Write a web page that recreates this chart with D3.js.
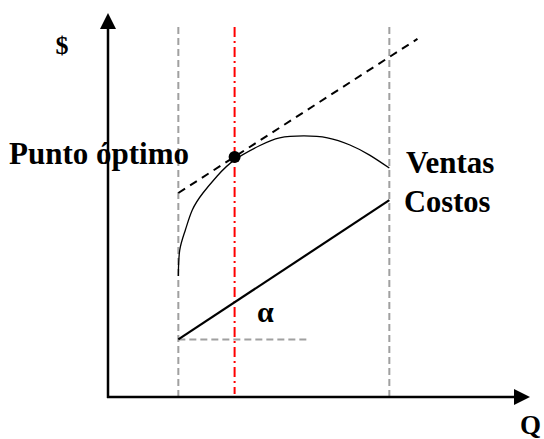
<!DOCTYPE html>
<html>
<head>
<meta charset="utf-8">
<script src="https://cdn.jsdelivr.net/npm/d3@7"></script>
<style>
  body { margin: 0; background: #fff; }
  text { font-family: "Liberation Serif", "Times New Roman", serif; font-weight: bold; fill: #000; }
</style>
</head>
<body>
<svg id="chart"></svg>
<script>
// Quantity levels (left limit, optimum, right limit)
const qLevels = [5, 9, 20];
// Sales curve
const salesQ = [5, 5.1, 5.5, 6, 6.75, 7.75, 9, 10.8, 12.2, 13.9, 15.6, 17.2, 18.6, 20];
const salesV = [12.6, 15.3, 17.4, 19.5, 21.25, 23.0, 24.7, 26.2, 27, 27.2, 27, 26.25, 25.2, 23.85];
// Costs line
const costQ = [5, 20];
const costV = [6, 20.5];
// Tangent at optimum
const tangentQ = [5, 22];
const tangentV = [21.25, 37.3];
// Optimum point
const optimumQ = 9;
const optimumV = 25;
// End of the alpha reference segment
const alphaEndQ = 14.3;

const config = {
  width: 544,
  height: 439,
  xRange: [108, 530],
  yRange: [397, 13],
};

const svg = d3.select('#chart')
  .attr('width', config.width)
  .attr('height', config.height);

// Scales
const xScale = d3.scaleLinear().domain([0, 30]).range(config.xRange);
const yScale = d3.scaleLinear().domain([0, 40]).range(config.yRange);

const x0 = xScale(0);
const y0 = yScale(0);
const yTop = 27;

// Vertical guide lines (gray dashed at limits, red dash-dot at optimum)
qLevels.forEach((q) => {
  const isOpt = q === optimumQ;
  svg.append('line')
    .attr('x1', xScale(q)).attr('x2', xScale(q))
    .attr('y1', yTop).attr('y2', isOpt ? y0 - 3 : y0)
    .attr('stroke', isOpt ? '#ff0000' : '#a0a0a0')
    .attr('stroke-width', 2)
    .attr('stroke-dasharray', isOpt ? '10,4,2,4' : '7,4');
});

// Horizontal reference for alpha
svg.append('line')
  .attr('x1', xScale(costQ[0])).attr('x2', xScale(alphaEndQ))
  .attr('y1', yScale(costV[0])).attr('y2', yScale(costV[0]))
  .attr('stroke', '#a0a0a0')
  .attr('stroke-width', 2)
  .attr('stroke-dasharray', '7,4');

// Tangent line (dashed)
const line = d3.line().x((d) => xScale(d[0])).y((d) => yScale(d[1]));
svg.append('path')
  .datum(d3.zip(tangentQ, tangentV))
  .attr('d', line)
  .attr('fill', 'none')
  .attr('stroke', '#000')
  .attr('stroke-width', 2)
  .attr('stroke-dasharray', '8,6');

// Sales curve
const curveLine = d3.line()
  .x((d) => xScale(d[0]))
  .y((d) => yScale(d[1]))
  .curve(d3.curveNatural);
svg.append('path')
  .datum(d3.zip(salesQ, salesV))
  .attr('d', curveLine)
  .attr('fill', 'none')
  .attr('stroke', '#000')
  .attr('stroke-width', 1.3);

// Costs line
svg.append('path')
  .datum(d3.zip(costQ, costV))
  .attr('d', line)
  .attr('fill', 'none')
  .attr('stroke', '#000')
  .attr('stroke-width', 2.2);

// Optimum point
svg.append('circle')
  .attr('cx', xScale(optimumQ))
  .attr('cy', yScale(optimumV))
  .attr('r', 6)
  .attr('fill', '#000');

// Axes with arrowheads
svg.append('line')
  .attr('x1', x0).attr('x2', x0)
  .attr('y1', y0 + 1).attr('y2', config.yRange[1] + 14)
  .attr('stroke', '#000').attr('stroke-width', 2.5);
svg.append('line')
  .attr('x1', x0 - 1).attr('x2', config.xRange[1] - 14)
  .attr('y1', y0).attr('y2', y0)
  .attr('stroke', '#000').attr('stroke-width', 2.5);
svg.append('path')
  .attr('d', `M${x0},${config.yRange[1]}L${x0 - 8},${config.yRange[1] + 16}L${x0 + 8},${config.yRange[1] + 16}Z`)
  .attr('fill', '#000');
svg.append('path')
  .attr('d', `M${config.xRange[1]},${y0}L${config.xRange[1] - 16},${y0 - 8}L${config.xRange[1] - 16},${y0 + 8}Z`)
  .attr('fill', '#000');

// Labels
svg.append('text').attr('x', 62).attr('y', 54).attr('text-anchor', 'middle')
  .attr('font-size', 26).text('$');
svg.append('text').attr('x', 9).attr('y', 164)
  .attr('font-size', 31).text('Punto óptimo');
svg.append('text').attr('x', 406).attr('y', 173)
  .attr('font-size', 31).text('Ventas');
svg.append('text').attr('x', 404).attr('y', 212)
  .attr('font-size', 30.5).text('Costos');
svg.append('text').attr('x', 257).attr('y', 322)
  .attr('font-size', 30).text('α');
svg.append('text').attr('x', 520).attr('y', 434)
  .attr('font-size', 27).text('Q');
</script>
</body>
</html>
